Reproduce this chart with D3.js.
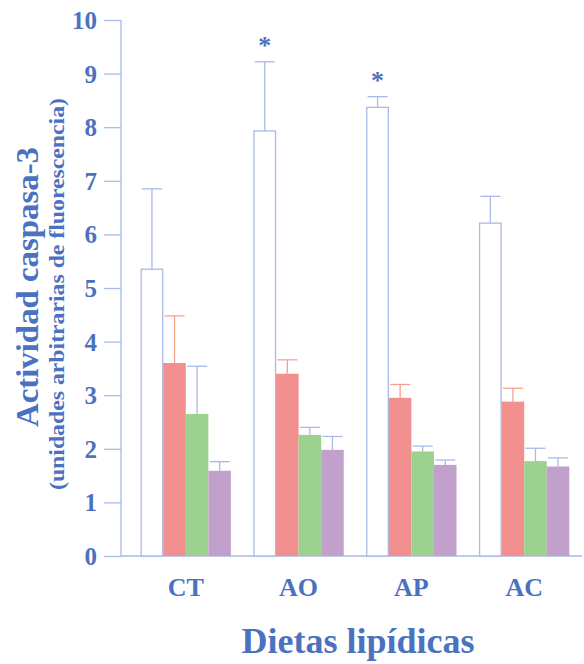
<!DOCTYPE html>
<html><head><meta charset="utf-8">
<script src="https://cdn.jsdelivr.net/npm/d3@7"></script>
<style>body{margin:0;background:#fff}svg{display:block}</style>
</head><body>
<script>
const groups = ["CT", "AO", "AP", "AC"];
const seriesKeys = ["s1", "s2", "s3", "s4"];
const s1 = [5.35, 7.93, 8.37, 6.21];
const s1err = [6.85, 9.22, 8.57, 6.71];
const s2 = [3.60, 3.40, 2.95, 2.88];
const s2err = [4.48, 3.66, 3.20, 3.13];
const s3 = [2.65, 2.26, 1.95, 1.77];
const s3err = [3.54, 2.40, 2.05, 2.01];
const s4 = [1.59, 1.98, 1.70, 1.67];
const s4err = [1.76, 2.23, 1.79, 1.83];
const yTicks = [0,1,2,3,4,5,6,7,8,9,10];
const stars = ["", "*", "*", ""];

const W = 584, H = 664;
const blue = "#4a72c0", line = "#a9b9e8";
const fills = ["#ffffff", "#f28f8f", "#9dd190", "#c2a0cc"];
const strokes = ["#a9b9e8", "none", "none", "none"];
const errCol = ["#a9b9e8", "#f6a28a", "#a9b9e8", "#a9b9e8"];
const vals = [s1, s2, s3, s4], errs = [s1err, s2err, s3err, s4err];

const svg = d3.select("body").append("svg").attr("width", W).attr("height", H);
const font = "'Liberation Serif', 'Times New Roman', serif";

const y = d3.scaleLinear().domain([0, 10]).range([556, 20]);
const x0 = d3.scaleBand().domain(groups).range([129.4, 580.6]).paddingInner(0.2).paddingOuter(0.1);
const x1 = d3.scaleBand().domain(seriesKeys).range([0, x0.bandwidth()]);

// y axis
const yAxis = svg.append("g").attr("transform", "translate(121,0)")
  .call(d3.axisLeft(y).tickValues(yTicks).tickSize(17).tickPadding(7).tickFormat(d3.format("d")));
yAxis.select(".domain").attr("stroke", line).attr("stroke-width", 1.3).attr("d", "M0,20V556");
yAxis.selectAll(".tick line").attr("stroke", line).attr("stroke-width", 1.3);
yAxis.selectAll(".tick text").attr("fill", blue).attr("font-family", font)
  .attr("font-weight", "bold").attr("font-size", 25).attr("dy", "0.34em");

// baseline
svg.append("line").attr("x1", 121).attr("x2", 582).attr("y1", y(0)).attr("y2", y(0))
  .attr("stroke", line).attr("stroke-width", 1.3);

// bars
groups.forEach((g, gi) => {
  const gx = x0(g);
  seriesKeys.forEach((k, si) => {
    const bx = gx + x1(k), bw = x1.bandwidth();
    const v = vals[si][gi], e = errs[si][gi];
    const cx = bx + bw / 2;
    svg.append("line").attr("x1", cx).attr("x2", cx).attr("y1", y(v)).attr("y2", y(e))
      .attr("stroke", errCol[si]).attr("stroke-width", 1.3);
    svg.append("line").attr("x1", cx - 10).attr("x2", cx + 10).attr("y1", y(e)).attr("y2", y(e))
      .attr("stroke", errCol[si]).attr("stroke-width", 1.3);
    svg.append("rect").attr("x", si === 0 ? bx + 0.5 : bx).attr("y", y(v))
      .attr("width", si === 0 ? bw - 1 : bw).attr("height", y(0) - y(v))
      .attr("fill", fills[si]).attr("stroke", strokes[si]).attr("stroke-width", 1.3);
  });
  if (stars[gi]) {
    svg.append("text").attr("x", gx + x1("s1") + x1.bandwidth() / 2).attr("y", y(errs[0][gi]) - 8)
      .attr("text-anchor", "middle").attr("fill", blue).attr("font-family", font)
      .attr("font-weight", "bold").attr("font-size", 26).text(stars[gi]);
  }
  svg.append("text").attr("x", gx + x0.bandwidth() / 2).attr("y", 596)
    .attr("text-anchor", "middle").attr("fill", blue).attr("font-family", font)
    .attr("font-weight", "bold").attr("font-size", 26).text(g);
});

// axis titles
svg.append("text").attr("transform", "translate(38,287) rotate(-90)")
  .attr("text-anchor", "middle").attr("fill", blue).attr("font-family", font)
  .attr("font-weight", "bold").attr("font-size", 32)
  .attr("textLength", 280).attr("lengthAdjust", "spacingAndGlyphs").text("Actividad caspasa-3");
svg.append("text").attr("transform", "translate(64,294) rotate(-90)")
  .attr("text-anchor", "middle").attr("fill", blue).attr("font-family", font)
  .attr("font-weight", "bold").attr("font-size", 20)
  .attr("textLength", 392).attr("lengthAdjust", "spacingAndGlyphs").text("(unidades arbitrarias de fluorescencia)");
svg.append("text").attr("x", 358).attr("y", 653)
  .attr("text-anchor", "middle").attr("fill", blue).attr("font-family", font)
  .attr("font-weight", "bold").attr("font-size", 36).text("Dietas lipídicas");
</script>
</body></html>
